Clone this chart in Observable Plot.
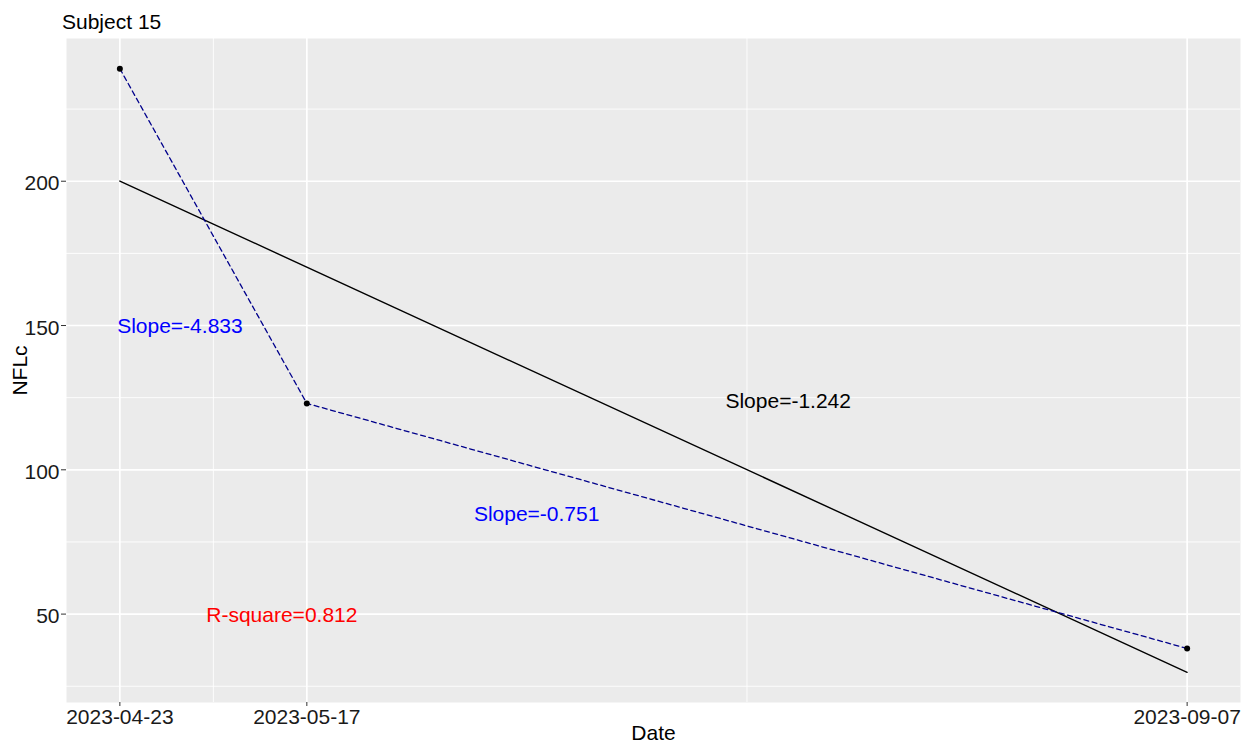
<!DOCTYPE html>
<html><head><meta charset="utf-8">
<script src="https://cdn.jsdelivr.net/npm/d3@7"></script>
<script src="https://cdn.jsdelivr.net/npm/@observablehq/plot@0.6"></script>
<style>
body{margin:0;background:#fff;font-family:"Liberation Sans",Arial,sans-serif;}
#title{height:38px;position:relative;}
#title span{position:absolute;left:62px;top:11px;font-size:21px;line-height:21px;color:#000;}
</style></head><body>
<div id="title"><span>Subject 15</span></div>
<div id="chart"></div>
<script>
// data
const dates = ["2023-04-23", "2023-05-17", "2023-09-07"];
const nflc = [239.0, 123.0, 38.1];
// annotations
const annText = ["Slope=-4.833", "Slope=-1.242", "Slope=-0.751", "R-square=0.812"];
const annDate = ["2023-04-30T17:00Z", "2023-07-17T19:00Z", "2023-06-15T12:00Z", "2023-05-13T19:00Z"];
const annValue = [150, 124, 85, 50];
const annColor = ["blue", "black", "blue", "red"];
// tick labels
const yTicks = [50, 100, 150, 200];
const yMinor = [25, 75, 125, 175, 225];

const pts = dates.map((d, i) => ({date: new Date(d), v: nflc[i]}));
const ann = annText.map((t, i) => ({text: t, date: new Date(annDate[i]), v: annValue[i], color: annColor[i]}));

// least-squares fit (per day)
const DAY = 864e5;
const t0 = pts[0].date.getTime();
const xs = pts.map(p => (p.date.getTime() - t0) / DAY);
const mx = d3.mean(xs), my = d3.mean(pts, p => p.v);
const slope = d3.sum(xs, (x, i) => (x - mx) * (pts[i].v - my)) / d3.sum(xs, x => (x - mx) ** 2);
const icpt = my - slope * mx;
const fit = [pts[0], pts[pts.length - 1]].map(p => ({date: p.date, v: icpt + slope * (p.date.getTime() - t0) / DAY}));

// ggplot-like 5% expansion
const xExt = d3.extent(pts, p => p.date.getTime());
const xPad = (xExt[1] - xExt[0]) * 0.05;
const yAll = pts.map(p => p.v).concat(fit.map(p => p.v));
const yExt = d3.extent(yAll);
const yPad = (yExt[1] - yExt[0]) * 0.05;

const xBreaks = pts.map(p => p.date);
const xMinor = xBreaks.slice(1).map((d, i) => new Date((d.getTime() + xBreaks[i].getTime()) / 2));
const fmt = d3.utcFormat("%Y-%m-%d");

const chart = Plot.plot({
  width: 1246, height: 706,
  marginLeft: 66, marginRight: 6, marginTop: 0, marginBottom: 42,
  style: {fontSize: "21px", fontFamily: "Liberation Sans, Arial, sans-serif", background: "#fff", color: "#000"},
  x: {type: "utc", domain: [new Date(xExt[0] - xPad), new Date(xExt[1] + xPad)]},
  y: {domain: [yExt[0] - yPad, yExt[1] + yPad]},
  marks: [
    Plot.frame({fill: "#EBEBEB", stroke: "none"}),
    Plot.ruleY(yMinor, {stroke: "white", strokeWidth: 0.9}),
    Plot.ruleX(xMinor, {stroke: "white", strokeWidth: 0.9}),
    Plot.ruleY(yTicks, {stroke: "white", strokeWidth: 1.7}),
    Plot.ruleX(xBreaks, {stroke: "white", strokeWidth: 1.7}),
    // axes: tick marks
    Plot.axisY({ticks: yTicks, tickSize: 5, fill: "none", stroke: "#333", label: null}),
    Plot.axisX({ticks: xBreaks, tickSize: 4, fill: "none", stroke: "#333", label: null}),
    // axes: labels
    Plot.axisY({ticks: yTicks, tickSize: 0, tickPadding: 7, dy: 2.5, fill: "#1a1a1a", fontSize: 21, label: null}),
    Plot.axisX({ticks: xBreaks, tickSize: 0, tickPadding: 7, tickFormat: fmt, fill: "#1a1a1a", fontSize: 21, label: null}),
    // series
    Plot.line(fit, {x: "date", y: "v", stroke: "black", strokeWidth: 1.4}),
    Plot.line(pts, {x: "date", y: "v", stroke: "#00008B", strokeWidth: 1.3, strokeDasharray: "5,3.5"}),
    Plot.dot(pts, {x: "date", y: "v", r: 3, fill: "black", stroke: "none"}),
    Plot.text(ann, {x: "date", y: "v", text: "text", fill: "color", fontSize: 21, dy: 1}),
    // axis titles
    Plot.text(["Date"], {frameAnchor: "bottom", textAnchor: "middle", lineAnchor: "middle", dy: 31, text: d => d, fill: "#000", fontSize: 21}),
    Plot.text(["NFLc"], {frameAnchor: "left", textAnchor: "middle", lineAnchor: "middle", dx: -46, rotate: -90, text: d => d, fill: "#000", fontSize: 21})
  ]
});
document.getElementById("chart").appendChild(chart);
</script>
</body></html>
